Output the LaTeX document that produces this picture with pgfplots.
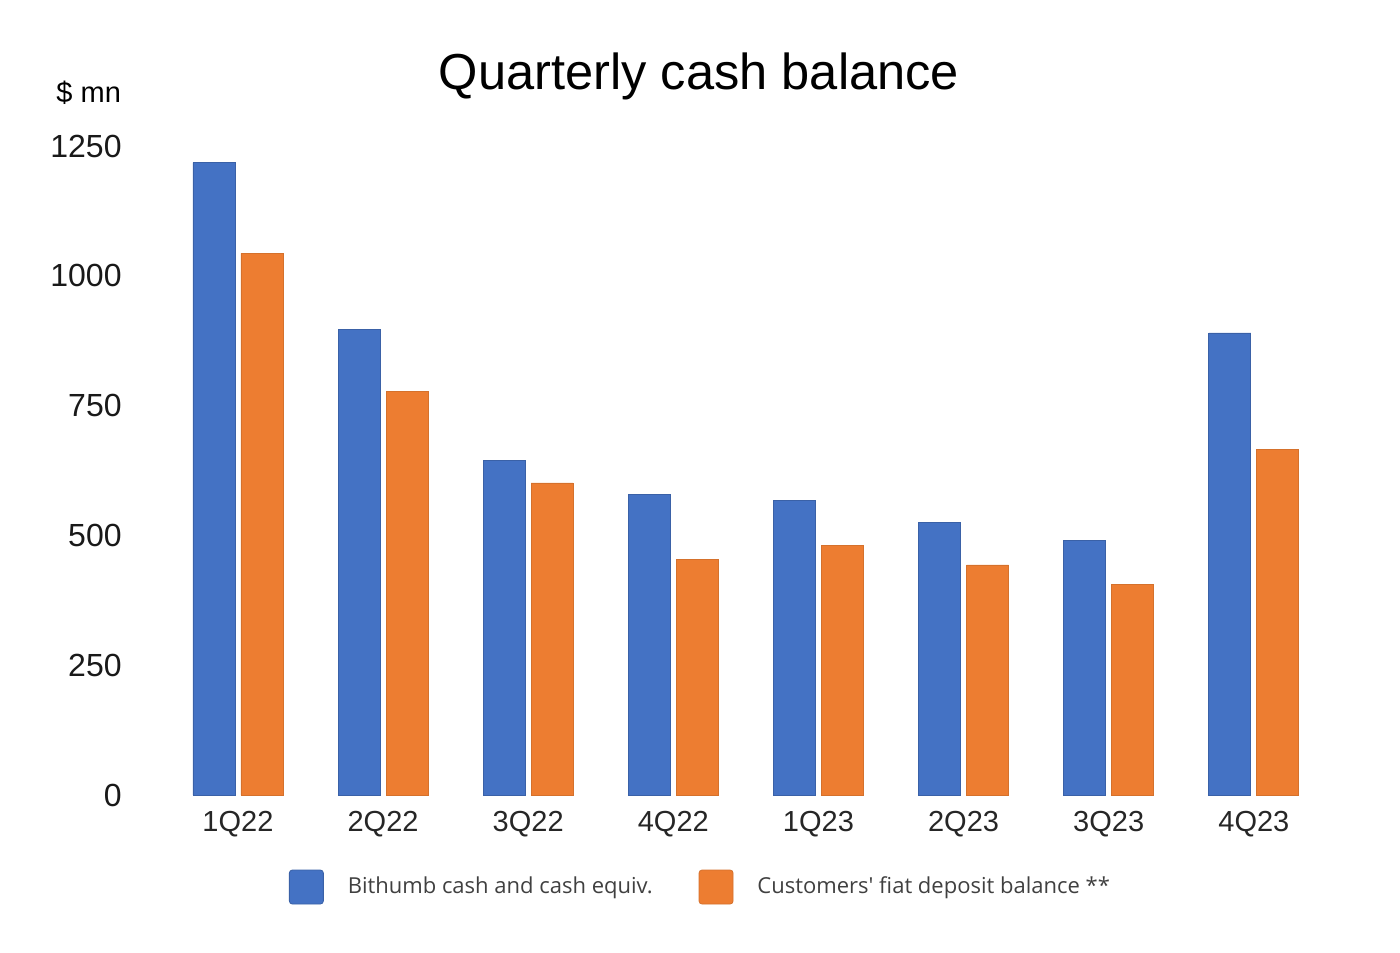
\documentclass[border=0pt]{standalone}
\usepackage{pgfplots}
\pgfplotsset{compat=1.18}
\usepackage{fontspec}
\setmainfont{Liberation Sans}
\newfontfamily\legfont{Open Sans}
\definecolor{cblue}{HTML}{4472C4}
\definecolor{corange}{HTML}{ED7D31}
\definecolor{legtext}{HTML}{404040}
\begin{document}
\begin{tikzpicture}
\useasboundingbox (0,0) rectangle (700pt,476pt);
\begin{axis}[
  at={(82.7pt,78.5pt)}, anchor=south west,
  scale only axis, width=580.5pt, height=324.5pt,
  ybar=3pt, bar width=21pt,
  xmin=-0.5, xmax=7.5, ymin=0, ymax=1250,
  axis line style={draw=none},
  major tick length=0pt,
  xtick=data,
  xticklabels={1Q22,2Q22,3Q22,4Q22,1Q23,2Q23,3Q23,4Q23},
  ytick={0,250,500,750,1000,1250},
  /pgf/number format/assume math mode=true,
  /pgf/number format/1000 sep={},
  y tick label style={font=\fontsize{16}{18}\selectfont, color=black!90, inner sep=0pt, anchor=east, xshift=-21.7pt},
  x tick label style={font=\fontsize{14.5}{16}\selectfont, color=black!85, inner sep=0pt, anchor=north, yshift=-8pt},
  title={Quarterly cash balance},
  title style={font=\fontsize{25.3}{28}\selectfont, at={(axis description cs:0.4596,1.0678)}, anchor=base, inner sep=0pt},
  legend columns=2,
  legend style={at={(axis description cs:0.4600,-0.1418)}, anchor=center, draw=none, fill=none,
    font=\legfont\fontsize{11}{13}\selectfont, text=legtext,
    /tikz/every even column/.append style={column sep=23pt},
    /tikz/every odd column/.append style={column sep=12pt},
    nodes={inner sep=0pt}},
  legend image code/.code={\fill[#1, rounded corners=1.5pt] (0pt,-8.5pt) rectangle (17pt,8.5pt);},
  clip=false,
]
\addplot[fill=cblue, draw=cblue!85!black, line width=0.4pt] coordinates {
  (0,1218) (1,897) (2,645) (3,579) (4,568) (5,525) (6,491) (7,890)};
\addplot[fill=corange, draw=corange!90!black, line width=0.4pt] coordinates {
  (0,1043) (1,777) (2,601) (3,453) (4,481) (5,443) (6,406) (7,666)};
\legend{Bithumb cash and cash equiv.,Customers' fiat deposit balance **}
\node[anchor=base west, inner sep=0pt, font=\fontsize{14.5}{16}\selectfont] at (axis description cs:-0.0942,1.0663) {\$ mn};
\end{axis}
\end{tikzpicture}
\end{document}
